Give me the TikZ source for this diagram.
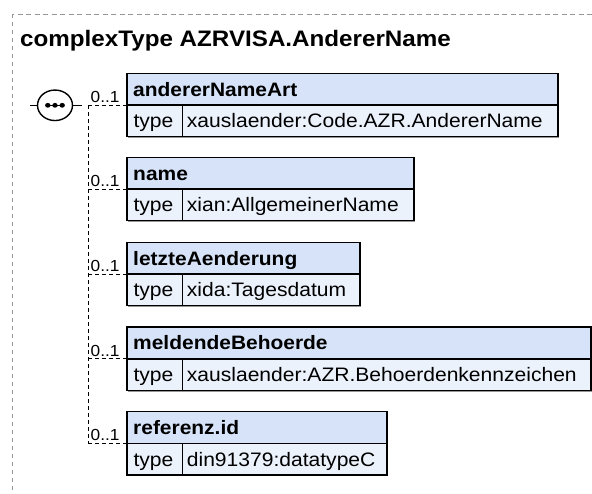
\documentclass[tikz,border=0pt]{standalone}
\usepackage{fontspec}
\setmainfont{Liberation Sans}[FakeStretch=1.08]
\usetikzlibrary{shapes.geometric,calc}
\definecolor{hdrblue}{RGB}{214,227,248}
\definecolor{rowblue}{RGB}{236,242,252}
\definecolor{framegray}{RGB}{150,150,150}
\definecolor{shadegray}{RGB}{150,150,150}
\tikzset{
  hdrbox/.style={draw=black, line width=1.4pt, fill=hdrblue, rectangle, inner sep=0pt, outer sep=0pt, minimum height=31.8pt},
  rowbox/.style={draw=black, line width=1.4pt, fill=rowblue, rectangle, inner sep=0pt, outer sep=0pt, minimum height=31.5pt},
  typecell/.style={draw=black, line width=1.4pt, rectangle, inner sep=0pt, outer sep=0pt, minimum height=31.5pt, minimum width=55.7pt},
  hdrtext/.style={inner sep=0pt, font=\fontsize{19.4}{22}\selectfont\bfseries},
  rowtext/.style={inner sep=0pt, font=\fontsize{19.5}{22}\selectfont},
  mult/.style={inner sep=0pt, font=\fontsize{16}{19}\selectfont},
  titletext/.style={inner sep=0pt, font=\fontsize{22.4}{26}\selectfont\bfseries},
  conn/.style={draw=black, line width=1.2pt, dash pattern=on 4pt off 3pt},
  framehline/.style={draw=framegray, line width=1pt, dash pattern=on 5pt off 3.5pt},
  framevline/.style={draw=framegray, line width=1pt, dash pattern=on 4pt off 4pt},
}
\newcommand\elembox[5]{%
  \fill[shadegray] ($(127,#2)+(1.3,1.3)$) rectangle ($(127+#3,#2+63.3)+(1.3,1.3)$);
  \node[hdrbox, minimum width=#3pt, anchor=north west] (h#1) at (127,#2) {};
  \node[rowbox, minimum width=#3pt, anchor=north west] (r#1) at (h#1.south west) {};
  \node[typecell, anchor=north west] (t#1) at (h#1.south west) {};
  \node[hdrtext, anchor=base west] (ht#1) at ([xshift=6pt,yshift=-7pt]h#1.west) {#4};
  \node[rowtext, anchor=base west] (tl#1) at ([xshift=6.3pt,yshift=-7pt]r#1.west) {type};
  \node[rowtext, anchor=base west] (tv#1) at ([xshift=59.7pt,yshift=-7pt]r#1.west) {#5};
  \draw[conn] (top |- h#1.south west) -- (h#1.south west);
  \node[mult, anchor=base west] (m#1) at ($(top |- h#1.south west)+(2.2,-2.6)$) {0..1};
}
\begin{document}
\begin{tikzpicture}[x=1pt,y=-1pt]
\useasboundingbox (0,0) rectangle (592,493);
\fill[white] (0,0) rectangle (592,493);
% frame
\draw[framehline] (592,14) -- (12.5,14);
\draw[framevline] (12.5,14) -- (12.5,493);
% title
\node[titletext, anchor=base west] (ttl) at (20,46) {complexType AZRVISA.AndererName};
% sequence compositor
\coordinate (top) at (88.3,105.3);
\coordinate (bot) at (88.3,443.3);
\coordinate (seql) at (30,105.3);
\coordinate (seqr) at (82,105.3);
\node[draw=black, line width=1.4pt, ellipse, fill=white, inner sep=0pt, minimum width=35pt, minimum height=30.5pt] (seq) at (55,105.3) {};
\draw[black, line width=1.2pt] (seql) -- (seq.west);
\draw[black, line width=1.2pt] (seq.east) -- (seqr);
\draw[black, line width=1.2pt] (46.5,105.3) -- (63.5,105.3);
\foreach \dx in {47.8,55,62.2} \fill[black] (\dx,105.3) circle[x radius=2.7pt, y radius=2.4pt];
\draw[conn] (top) -- (bot);
% elements
\elembox{1}{73.3}{431}{andererNameArt}{xauslaender:Code.AZR.AndererName}
\elembox{2}{157.3}{287}{name}{xian:AllgemeinerName}
\elembox{3}{242.3}{233}{letzteAenderung}{xida:Tagesdatum}
\elembox{4}{327}{464}{meldendeBehoerde}{xauslaender:AZR.Behoerdenkennzeichen}
\elembox{5}{411.5}{260}{referenz.id}{din91379:datatypeC}
\end{tikzpicture}
\end{document}
